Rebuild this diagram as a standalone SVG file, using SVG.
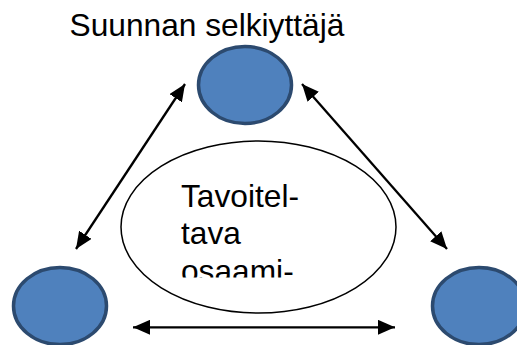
<svg xmlns="http://www.w3.org/2000/svg" width="517" height="345" viewBox="0 0 517 345">
<style>
.node{fill:#4f81bd;stroke:#2c4a6f;stroke-width:3.5}
.conn{stroke:#000;stroke-width:2.3;fill:none;marker-start:url(#ah);marker-end:url(#ah)}
.t{font-family:"Liberation Sans",Arial,sans-serif;font-size:31.7px;fill:#000}
</style>
<defs>
<marker id="ah" viewBox="0 0 17 15" refX="17" refY="7.5" markerWidth="17" markerHeight="15" markerUnits="userSpaceOnUse" orient="auto-start-reverse">
<path d="M0,0 L17,7.5 L0,15 Z" fill="#000"/>
</marker>
<clipPath id="cl"><rect x="0" y="0" width="517" height="277.5"/></clipPath>
</defs>
<rect width="517" height="345" fill="#fff"/>
<g id="title"><text class="t" x="69.5" y="35.5">Suunnan selkiyttäjä</text></g>
<g id="center">
<ellipse cx="258.5" cy="227" rx="137.5" ry="86" fill="#fff" stroke="#000" stroke-width="1.5"/>
<g clip-path="url(#cl)">
<text class="t" x="181" y="207">Tavoitel-</text>
<text class="t" x="181" y="244">tava</text>
<text class="t" x="181" y="281.5">osaami-</text>
</g>
</g>
<g id="top"><ellipse class="node" cx="245" cy="85" rx="46.5" ry="38.5"/></g>
<g id="left"><ellipse class="node" cx="60" cy="306" rx="46.5" ry="38.5"/></g>
<g id="right"><ellipse class="node" cx="479" cy="306" rx="46.5" ry="38.5"/></g>
<g id="connectors">
<line class="conn" x1="76" y1="249" x2="185" y2="84"/>
<line class="conn" x1="302" y1="84" x2="447" y2="249"/>
<line class="conn" x1="133" y1="327.3" x2="395" y2="327.3"/>
</g>
</svg>
